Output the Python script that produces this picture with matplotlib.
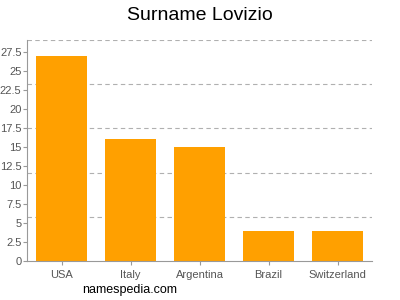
import matplotlib.pyplot as plt
import numpy as np

plt.rcParams["font.family"] = ["Liberation Sans", "DejaVu Sans"]

countries = ["USA", "Italy", "Argentina", "Brazil", "Switzerland"]
counts = [27, 16, 15, 4, 4]
yticks = [0, 2.5, 5, 7.5, 10, 12.5, 15, 17.5, 20, 22.5, 25, 27.5]
ytick_labels = ["0", "2.5", "5", "7.5", "10", "12.5", "15", "17.5", "20", "22.5", "25", "27.5"]
ymax = 29.1

fig = plt.figure(figsize=(4, 3), dpi=100)
ax = fig.add_axes([0.0675, 0.13, 0.8625, 0.737])

x = np.arange(len(countries))
ax.bar(x, counts, width=0.725, color="#FFA000", zorder=2)

ax.set_xlim(-0.5, 4.5)
ax.set_ylim(0, ymax)
ax.set_yticks(yticks)
ax.set_yticklabels(ytick_labels)
ax.set_xticks(x)
ax.set_xticklabels(countries)

# dashed grid splits the axis in five equal parts
for i in range(1, 6):
    ax.axhline(ymax * i / 5, color="#b0b0b0", linestyle=(0, (4, 3)), linewidth=0.8, zorder=1)

for s in ["top", "right"]:
    ax.spines[s].set_visible(False)
ax.spines["left"].set_color("#999999")
ax.spines["bottom"].set_color("#999999")
ax.tick_params(axis="both", colors="#999999", labelcolor="#555555", labelsize=8, length=3, width=0.8)
ax.tick_params(axis="y", pad=1)

fig.text(0.5, 0.95, "Surname Lovizio", ha="center", va="center", fontsize=14)
fig.text(0.325, 0.033, "namespedia.com", ha="center", va="center", fontsize=9)

fig.savefig("out.png", dpi=100)
